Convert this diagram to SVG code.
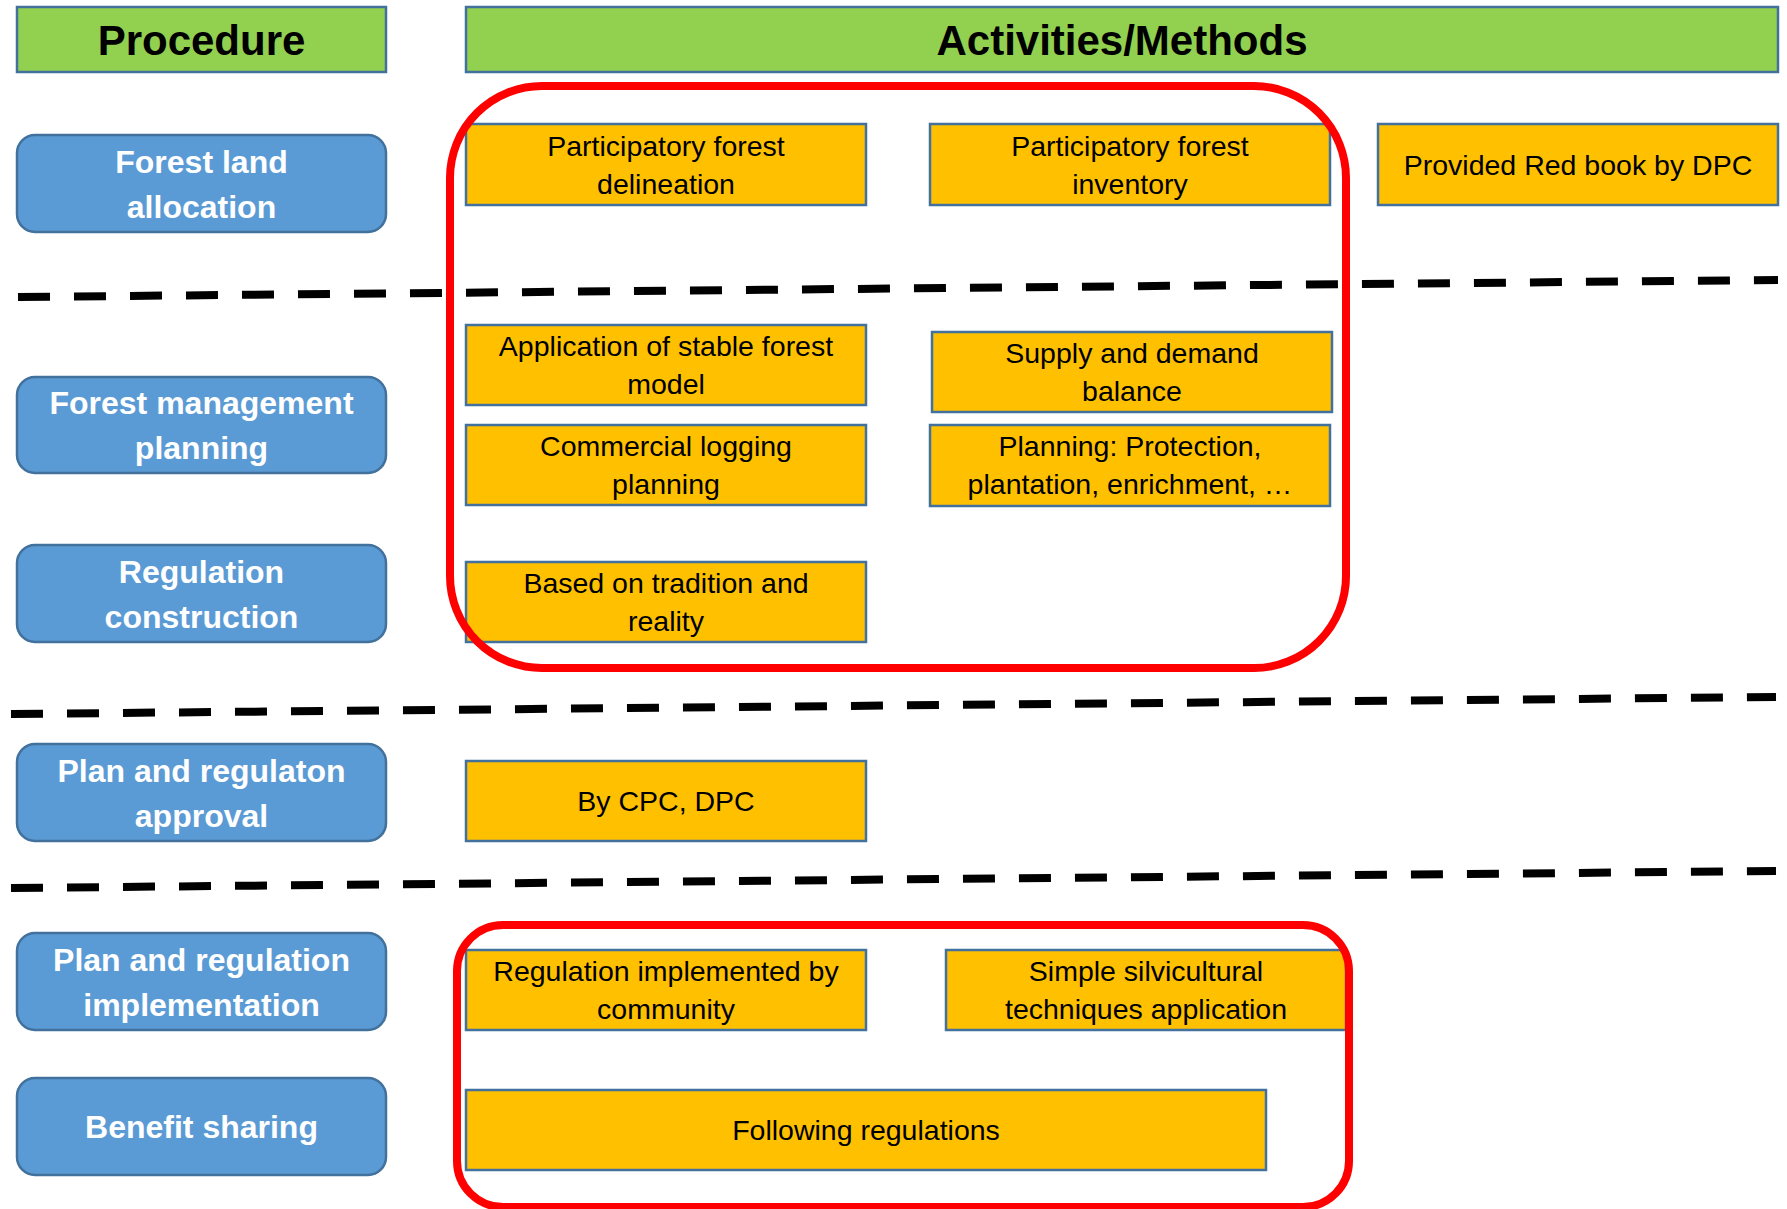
<svg xmlns="http://www.w3.org/2000/svg" width="1787" height="1209" viewBox="0 0 1787 1209">
<style>
.hdr{fill:#92D050;stroke:#41719C;stroke-width:2.5}
.hdrt{font-family:"Liberation Sans",Arial,sans-serif;font-weight:bold;font-size:42px;fill:#000;text-anchor:middle}
.proc{fill:#5B9BD5;stroke:#41719C;stroke-width:2.5}
.proct{font-family:"Liberation Sans",Arial,sans-serif;font-weight:bold;font-size:32px;fill:#fff;text-anchor:middle}
.act{fill:#FFC000;stroke:#41719C;stroke-width:2.5}
.actt{font-family:"Liberation Sans",Arial,sans-serif;font-size:28.5px;fill:#000;text-anchor:middle}
.sep{fill:none;stroke:#000;stroke-width:8;stroke-dasharray:32 24}
.hl{fill:none;stroke:#FF0000;stroke-width:8}
</style>
<rect width="1787" height="1209" fill="#fff"/>

<g id="header-procedure"><rect class="hdr" x="17" y="7" width="369" height="65"/><text class="hdrt" x="201.5" y="55">Procedure</text></g>
<g id="header-activities"><rect class="hdr" x="466" y="7" width="1312" height="65"/><text class="hdrt" x="1122" y="55">Activities/Methods</text></g>

<g id="separators">
<line class="sep" x1="18" y1="297" x2="1778" y2="280"/>
<line class="sep" x1="11" y1="714" x2="1776" y2="697"/>
<line class="sep" x1="11" y1="888" x2="1776" y2="871"/>
</g>

<g id="p-forest-land-allocation"><rect class="proc" x="17" y="135" width="369" height="97" rx="18"/><text class="proct" x="201.5" y="173">Forest land</text><text class="proct" x="201.5" y="218">allocation</text></g>
<g id="p-forest-management-planning"><rect class="proc" x="17" y="377" width="369" height="96" rx="18"/><text class="proct" x="201.5" y="414">Forest management</text><text class="proct" x="201.5" y="459">planning</text></g>
<g id="p-regulation-construction"><rect class="proc" x="17" y="545" width="369" height="97" rx="18"/><text class="proct" x="201.5" y="583">Regulation</text><text class="proct" x="201.5" y="628">construction</text></g>
<g id="p-plan-approval"><rect class="proc" x="17" y="744" width="369" height="97" rx="18"/><text class="proct" x="201.5" y="782">Plan and regulaton</text><text class="proct" x="201.5" y="827">approval</text></g>
<g id="p-plan-implementation"><rect class="proc" x="17" y="933" width="369" height="97" rx="18"/><text class="proct" x="201.5" y="971">Plan and regulation</text><text class="proct" x="201.5" y="1016">implementation</text></g>
<g id="p-benefit-sharing"><rect class="proc" x="17" y="1078" width="369" height="97" rx="18"/><text class="proct" x="201.5" y="1138">Benefit sharing</text></g>

<g id="a-delineation"><rect class="act" x="466" y="124" width="400" height="81"/><text class="actt" x="666" y="156">Participatory forest</text><text class="actt" x="666" y="194">delineation</text></g>
<g id="a-inventory"><rect class="act" x="930" y="124" width="400" height="81"/><text class="actt" x="1130" y="156">Participatory forest</text><text class="actt" x="1130" y="194">inventory</text></g>
<g id="a-red-book"><rect class="act" x="1378" y="124" width="400" height="81"/><text class="actt" x="1578" y="175">Provided Red book by DPC</text></g>
<g id="a-stable-forest"><rect class="act" x="466" y="325" width="400" height="80"/><text class="actt" x="666" y="356">Application of stable forest</text><text class="actt" x="666" y="394">model</text></g>
<g id="a-supply-demand"><rect class="act" x="932" y="332" width="400" height="80"/><text class="actt" x="1132" y="363">Supply and demand</text><text class="actt" x="1132" y="401">balance</text></g>
<g id="a-commercial-logging"><rect class="act" x="466" y="425" width="400" height="80"/><text class="actt" x="666" y="456">Commercial logging</text><text class="actt" x="666" y="494">planning</text></g>
<g id="a-planning-protection"><rect class="act" x="930" y="425" width="400" height="81"/><text class="actt" x="1130" y="456">Planning: Protection,</text><text class="actt" x="1130" y="494">plantation, enrichment, …</text></g>
<g id="a-tradition"><rect class="act" x="466" y="562" width="400" height="80"/><text class="actt" x="666" y="593">Based on tradition and</text><text class="actt" x="666" y="631">reality</text></g>
<g id="a-cpc-dpc"><rect class="act" x="466" y="761" width="400" height="80"/><text class="actt" x="666" y="811">By CPC, DPC</text></g>
<g id="a-community"><rect class="act" x="466" y="950" width="400" height="80"/><text class="actt" x="666" y="981">Regulation implemented by</text><text class="actt" x="666" y="1019">community</text></g>
<g id="a-silvicultural"><rect class="act" x="946" y="950" width="400" height="80"/><text class="actt" x="1146" y="981">Simple silvicultural</text><text class="actt" x="1146" y="1019">techniques application</text></g>
<g id="a-following-regulations"><rect class="act" x="466" y="1090" width="800" height="80"/><text class="actt" x="866" y="1140">Following regulations</text></g>

<g id="highlights">
<rect class="hl" x="450" y="86" width="896" height="582" rx="92" ry="92"/>
<rect class="hl" x="457" y="925" width="892" height="282" rx="46" ry="46"/>
</g>
</svg>
